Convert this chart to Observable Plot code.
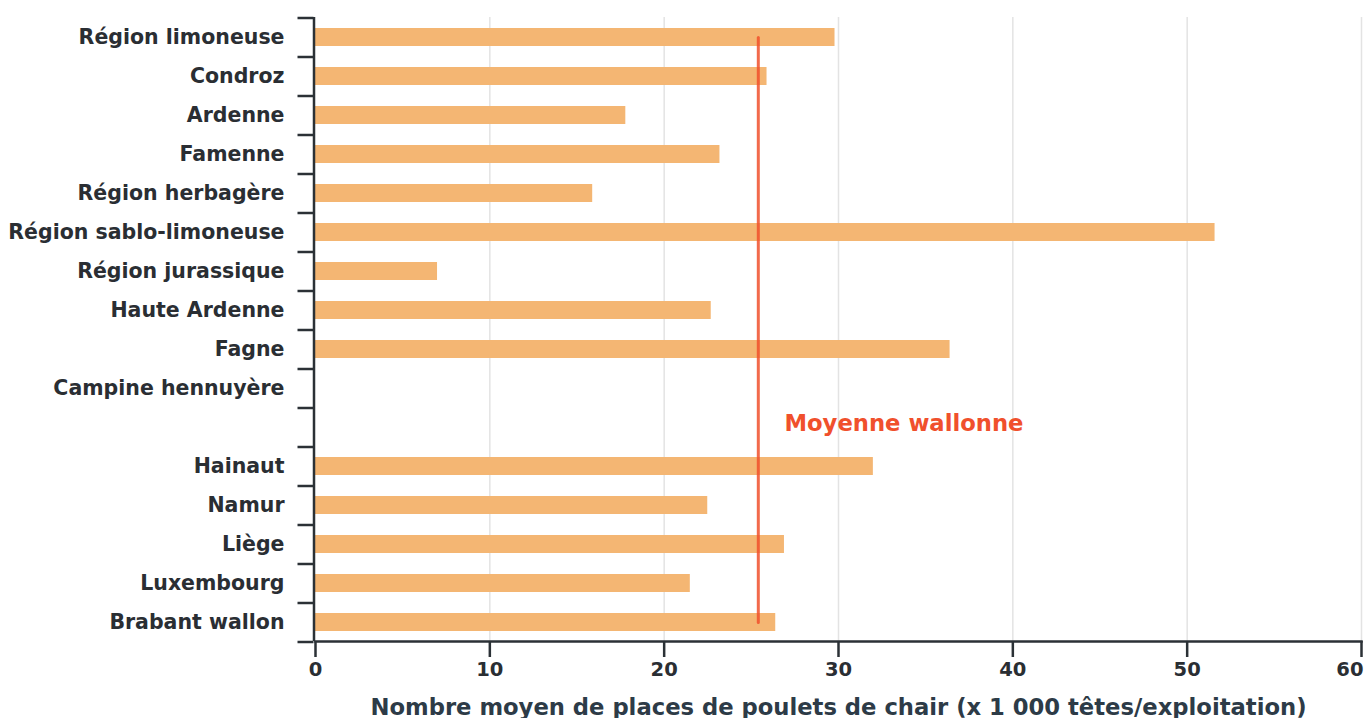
<!DOCTYPE html>
<html>
<head>
<meta charset="utf-8">
<script src="https://cdn.jsdelivr.net/npm/d3@7"></script>
<script src="https://cdn.jsdelivr.net/npm/@observablehq/plot@0.6"></script>
<style>
  html, body { margin: 0; padding: 0; background: #fff; }
  #chart svg { display: block; font-family: "DejaVu Sans", sans-serif; }
</style>
</head>
<body>
<div id="chart"></div>
<script>
const categories = [
  "Région limoneuse", "Condroz", "Ardenne", "Famenne", "Région herbagère",
  "Région sablo-limoneuse", "Région jurassique", "Haute Ardenne", "Fagne",
  "Campine hennuyère", " ", "Hainaut", "Namur", "Liège", "Luxembourg", "Brabant wallon"
];
const values = [29.8, 25.9, 17.8, 23.2, 15.9, 51.6, 7.0, 22.7, 36.4, null, null, 32.0, 22.5, 26.9, 21.5, 26.4];
const meanValue = 25.4;
const meanLabel = "Moyenne wallonne";
const meanLabelX = 26.9;
const meanLabelCategory = " ";
const xTicks = [0, 10, 20, 30, 40, 50, 60];
const xTitle = "Nombre moyen de places de poulets de chair (x 1 000 têtes/exploitation)";

const data = categories.map((c, i) => ({category: c, value: values[i]}));
const meanLine = [categories[0], categories[categories.length - 1]].map(c => ({category: c, value: meanValue}));

const W = 1364, H = 718;
const mTop = 17, mBottom = 77, mLeft = 315, mRight = 3;
const step = (H - mTop - mBottom) / categories.length;
const axisColor = "#2b3136";
const textColor = "#2a2e33";
const tickLabelStyle = {
  x: d => d, text: d => String(d), frameAnchor: "bottom", lineAnchor: "middle", dy: 28,
  fill: textColor, fontSize: 19.5, fontWeight: "bold"
};

const plot = Plot.plot({
  width: W,
  height: H,
  marginTop: mTop,
  marginBottom: mBottom,
  marginLeft: mLeft,
  marginRight: mRight,
  style: {fontFamily: "DejaVu Sans", background: "#fff", overflow: "visible"},
  x: {domain: [0, 60], ticks: xTicks},
  y: {domain: categories, paddingInner: 0.55, paddingOuter: 0.275, align: 0.5},
  marks: [
    Plot.gridX(xTicks.slice(1), {stroke: "#e3e3e3", strokeOpacity: 1, strokeWidth: 1.5}),
    Plot.barX(data.filter(d => d.value != null), {x: "value", y: "category", fill: "#f4b673"}),
    Plot.line(meanLine, {x: "value", y: "category", stroke: "#f0502c", strokeWidth: 3, strokeOpacity: 0.85}),
    Plot.text([{x: meanLabelX, category: meanLabelCategory, label: meanLabel}], {
      x: "x", y: "category", text: "label", textAnchor: "start", dy: -4,
      fill: "#f0502c", fontSize: 22.7, fontWeight: "bold"
    }),
    Plot.ruleX([0], {stroke: axisColor, strokeWidth: 2.5, dx: -1.5}),
    Plot.frame({anchor: "bottom", stroke: axisColor, strokeWidth: 2.5}),
    Plot.axisX({
      ticks: xTicks, tickSize: 16, text: null, stroke: axisColor, strokeWidth: 2.5, label: null
    }),
    Plot.text(xTicks.slice(0, -1), tickLabelStyle),
    Plot.text(xTicks.slice(-1), {...tickLabelStyle, textAnchor: "end", dx: 2}),
    Plot.axisY({
      tickSize: 0, tickPadding: 31, fill: textColor, fontSize: 20.5, fontWeight: "bold", label: null
    }),
    Plot.axisY({
      tickSize: 16, text: null, stroke: axisColor, strokeWidth: 2.5, dy: -step / 2, dx: -1.5, label: null
    }),
    Plot.axisY(categories.slice(-1), {
      tickSize: 16, text: null, stroke: axisColor, strokeWidth: 2.5, dy: step / 2, dx: -1.5, label: null
    }),
    Plot.text([xTitle], {
      frameAnchor: "bottom", dy: 73, fill: "#2d3b47", fontSize: 22.7, fontWeight: "bold"
    })
  ]
});
document.getElementById("chart").appendChild(plot);
</script>
</body>
</html>
